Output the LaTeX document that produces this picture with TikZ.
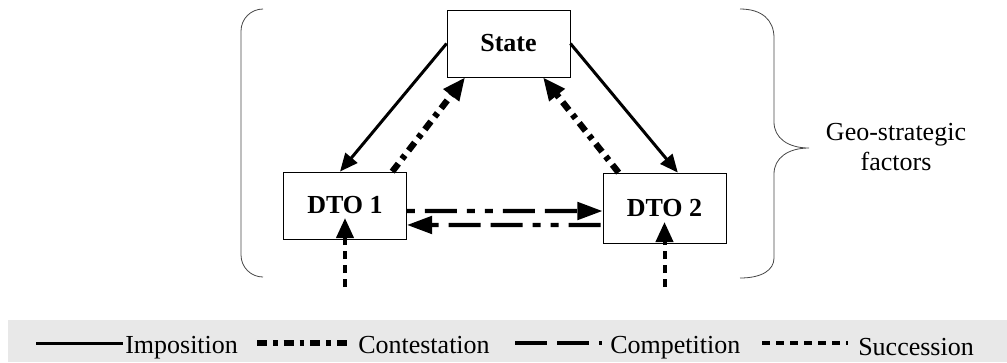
\documentclass[tikz,border=0pt]{standalone}
\usepackage{fontspec}
\setmainfont{Liberation Serif}
\usetikzlibrary{arrows.meta}
\definecolor{legendgray}{RGB}{232,232,232}
\definecolor{framegray}{RGB}{70,70,70}

\begin{document}
\begin{tikzpicture}[x=0.75pt, y=-0.75pt,
        font=\fontsize{19.5pt}{22.5pt}\selectfont,
        box/.style={draw, line width=0.6pt, minimum width=92.25pt, minimum height=50.25pt, inner sep=0pt, font=\fontsize{19.5pt}{22.5pt}\selectfont\bfseries},
        frame/.style={draw=framegray, line width=0.6pt},
        impos/.style={-{Triangle[length=13.5pt, width=11.5pt]}, line width=2.25pt},
        contest/.style={-{Triangle[length=17pt, width=14pt]}, line width=4.75pt, dash pattern=on 7.5pt off 4.5pt on 3.5pt off 4.5pt},
        compet/.style={-{Triangle[length=19pt, width=13pt]}, line width=3.25pt, dash pattern=on 24pt off 7.5pt on 24pt off 7.5pt on 6pt off 7.5pt on 6pt off 7.5pt},
        succ/.style={-{Triangle[length=15pt, width=12.75pt]}, line width=3pt, dash pattern=on 6pt off 4.5pt},
        keytext/.style={anchor=base west, inner sep=0pt}
    ]
        \useasboundingbox (0,0) rectangle (1007,362);

        % Actors
        \node[box] (state) at (508.5,43.5) {State};
        \node[box] (dto1) at (345,205.5) {DTO 1};
        \node[box, minimum height=52.5pt] (dto2) at (664.5,208) {DTO 2};

        % Bracket and brace
        \draw[frame, rounded corners=16.5pt] (263,9) -- (241,9) -- (241,277) -- (263,277);
        \draw[frame] (740,9) .. controls (762,9) and (774,20) .. (774,38) -- (774,122)
            .. controls (774,138) and (788,148) .. (809,148)
            .. controls (788,148) and (774,158) .. (774,174) -- (774,258)
            .. controls (774,270) and (762,278) .. (740,278);
        \node[align=center] (geo) at (896,147) {Geo-strategic\\factors};

        % Relations
        \draw[impos] (state.west) -- ([xshift=-3.75pt]dto1.north);
        \draw[impos] (state.east) -- ([xshift=10pt]dto2.north);
        \draw[contest] ([xshift=-11pt]dto1.north east) -- ([xshift=-32.6pt]state.south);
        \draw[contest] ([xshift=12pt]dto2.north west) -- ([xshift=25.9pt]state.south);
        \draw[compet, dash phase=18pt] ([yshift=-4.1pt]dto1.east) -- ([yshift=-2.25pt]dto2.west);
        \draw[compet, dash phase=30pt] ([yshift=-12.75pt]dto2.west) -- ([yshift=-14.6pt]dto1.east);

        % Succession from below
        \coordinate (root1) at (345,287);
        \coordinate (root2) at (664.5,287);
        \draw[succ] (root1) -- ([yshift=-9.4pt]dto1.center);
        \draw[succ] (root2) -- ([yshift=-10.5pt]dto2.center);

        % Legend
        \path[fill=legendgray] (8,320) rectangle (1007,362);
        \foreach \sty/\a/\b/\c/\y/\txt in {impos/36/123/125/353/Imposition, contest/257/350/358/353/Contestation, compet/515/602/610/353/Competition, succ/762/848/858/355/Succession} {
            \coordinate (key-\txt) at (\a,343);
            \coordinate (keyend-\txt) at (\b,343);
            \draw[\sty, -] (key-\txt) -- (keyend-\txt);
            \node[keytext] (label-\txt) at (\c,\y) {\txt};
        }

    \end{tikzpicture}
\end{document}
